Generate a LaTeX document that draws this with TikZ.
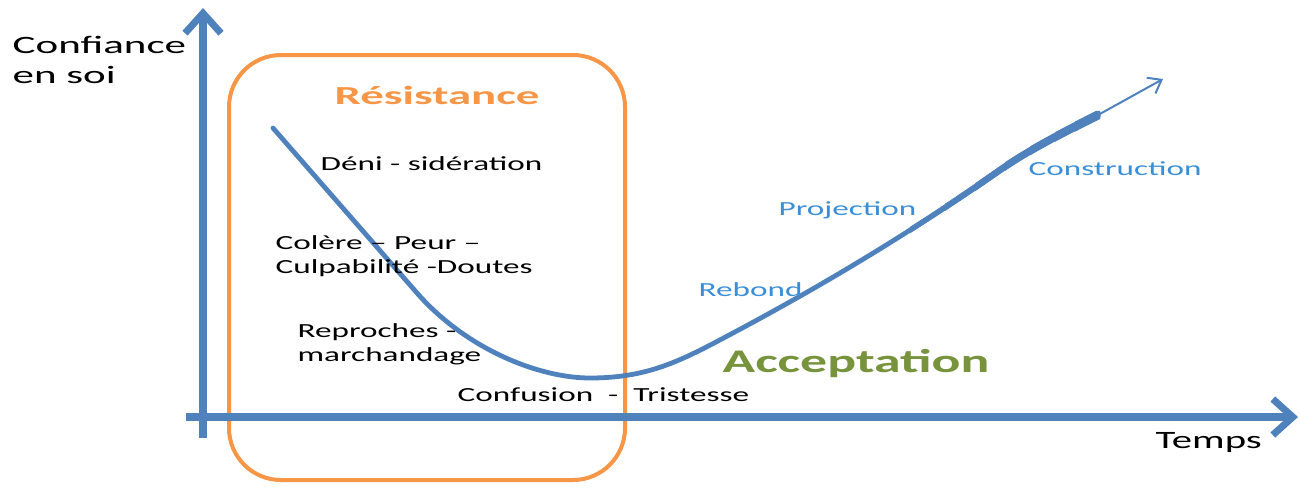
\documentclass[tikz,border=0pt]{standalone}
\usepackage{fontspec}
\setmainfont{Carlito}
\usetikzlibrary{arrows.meta}
\definecolor{axisblue}{HTML}{4F81BD}
\definecolor{lblblue}{HTML}{3A8ED8}
\definecolor{orng}{HTML}{F79646}
\definecolor{grn}{HTML}{77933C}
\tikzset{
  axis/.style={line width=4pt, axisblue, -{Straight Barb[length=10pt,width=18pt,line width=3.5pt]}},
  txt/.style={inner sep=0pt, anchor=west, align=left, font=\fontsize{10}{12}\selectfont},
  lbl/.style={txt, xscale=1.66},
  bluelbl/.style={lbl, text=lblblue},
  curve/.style={axisblue, line cap=round},
}
\begin{document}
\begin{tikzpicture}[x=0.5pt,y=-0.5pt]
\useasboundingbox (0,0) rectangle (1300,489);
% frame
\draw[orng, line width=2pt, rounded corners=26pt] (229,55) rectangle (625,480);
% axes
\coordinate (ybot) at (203,438);
\coordinate (ytop) at (203,8);
\coordinate (xl) at (186,417);
\coordinate (xr) at (1298,417);
\draw[axis] (ybot) -- (ytop);
\draw[axis] (xl) -- (xr);
% curve
\coordinate (cstart) at (273,128);
\coordinate (cmin) at (590,378);
\coordinate (cend) at (1098,115);
\coordinate (ctip) at (1163,79);
\def\curvepath{(cstart) -- (417,293) .. controls (467,350) and (540,378) .. (cmin)
  .. controls (650,378) and (683,359.5) .. (733,333)
  .. controls (823,285) and (910,233) .. (1000,170)
  .. controls (1030,149) and (1068,130) .. (cend)}
\draw[curve, line width=2.4pt, line join=round] \curvepath;
\foreach \xs/\lw in {910/2.7, 945/3.0, 975/3.3, 1005/3.6, 1030/3.9, 1055/4.2, 1075/4.5}{
  \begin{scope}
    \clip (\xs,0) rectangle (1100,489);
    \draw[curve, line width=\lw pt] \curvepath;
  \end{scope}
}
\draw[axisblue, line width=1pt, -{Straight Barb[length=6pt,width=9pt,line width=1pt]}] (cend) -- (ctip);
% texts
\node[txt, font=\fontsize{12.5}{15}\selectfont, xscale=1.72, anchor=north west] (conf) at (12,36) {Confiance\\en soi};
\node[txt, font=\bfseries\fontsize{13}{15}\selectfont, text=orng, anchor=center, xscale=1.8] (res) at (437,95) {Résistance};
\node[lbl] (deni) at (320,164) {Déni - sidération};
\node[lbl, anchor=north west] (colere) at (275,235) {Colère – Peur –\\Culpabilité -Doutes};
\node[lbl, anchor=north west] (repr) at (297,323) {Reproches -\\marchandage};
\node[lbl] (conf2) at (457,395) {Confusion \ - \ Tristesse};
\node[txt, font=\bfseries\fontsize{16.5}{18}\selectfont, text=grn, xscale=1.63] (acc) at (722,363) {Acceptation};
\node[bluelbl] (reb) at (698,290) {Rebond};
\node[bluelbl] (proj) at (778,210) {Projection};
\node[bluelbl] (cons) at (1028,169) {Construction};
\node[txt, font=\fontsize{12.5}{15}\selectfont, xscale=1.63] (temps) at (1155,442) {Temps};
\end{tikzpicture}
\end{document}
